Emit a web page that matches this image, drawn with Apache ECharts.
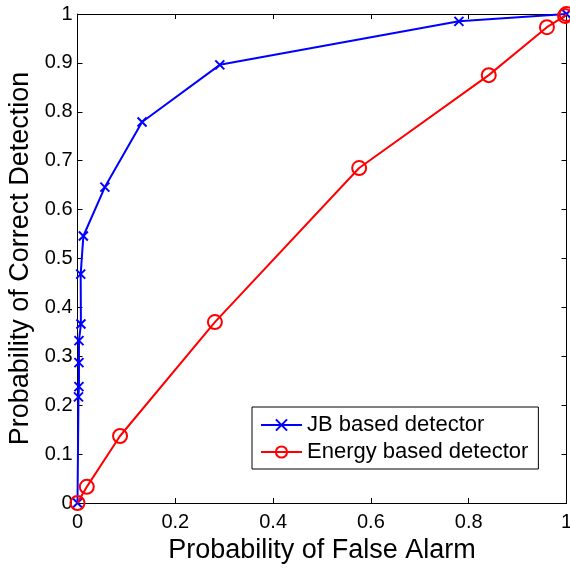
<!DOCTYPE html>
<html><head><meta charset="utf-8">
<script src="https://cdn.jsdelivr.net/npm/echarts@6/dist/echarts.min.js"></script>
<style>html,body{margin:0;padding:0;background:#fff}#c{width:570px;height:571px}</style>
</head><body><div id="c"></div>
<script>
const jbX = [0, 0.002, 0.003, 0.003, 0.003, 0.007, 0.0065, 0.012, 0.056, 0.132, 0.291, 0.78, 1.0];
const jbY = [0, 0.217, 0.238, 0.287, 0.332, 0.366, 0.468, 0.546, 0.646, 0.779, 0.896, 0.985, 1.0];
const enX = [0, 0.019, 0.087, 0.281, 0.576, 0.841, 0.96, 0.997, 1.0];
const enY = [0, 0.033, 0.137, 0.370, 0.685, 0.875, 0.973, 0.996, 1.0];
const xTicks = [0, 0.2, 0.4, 0.6, 0.8, 1];
const yTicks = [0, 0.1, 0.2, 0.3, 0.4, 0.5, 0.6, 0.7, 0.8, 0.9, 1];

const font = 'Liberation Sans, Arial, Helvetica, sans-serif';
const chart = echarts.init(document.getElementById('c'));
const pair = (xs, ys) => xs.map((x, i) => [x, ys[i]]);
const tickFmt = v => String(Math.round(v * 10) / 10);

const baseAxis = {
  min: 0, max: 1, type: 'value',
  axisLine: {show: true, onZero: false, lineStyle: {color: '#000', width: 1}},
  axisTick: {show: true, inside: true, length: 5, lineStyle: {color: '#000'}},
  splitLine: {show: false},
};

chart.setOption({
  animation: false,
  backgroundColor: '#fff',
  grid: {left: 77.5, right: 3.5, top: 14, bottom: 68, show: false, outerBoundsMode: 'none', containLabel: false},
  legend: {
    left: 252, top: 407, orient: 'vertical',
    itemWidth: 41, itemHeight: 14, itemGap: 5,
    padding: [7, 10, 6, 8],
    borderColor: '#000', borderWidth: 1, backgroundColor: '#fff',
    textStyle: {fontFamily: font, fontSize: 22, lineHeight: 22, color: '#000'},
    data: ['JB based detector', 'Energy based detector']
  },
  xAxis: [
    Object.assign({}, baseAxis, {
      position: 'bottom', interval: 0.2,
      axisLabel: {fontFamily: font, fontSize: 20, color: '#000', margin: 9, formatter: tickFmt},
      name: 'Probability of False Alarm', nameLocation: 'middle', nameGap: 48,
      nameTextStyle: {fontFamily: font, fontSize: 27, color: '#000', verticalAlign: 'middle'}
    }),
    Object.assign({}, baseAxis, {position: 'top', interval: 0.2, axisLabel: {show: false}})
  ],
  yAxis: [
    Object.assign({}, baseAxis, {
      position: 'left', interval: 0.1,
      axisLabel: {fontFamily: font, fontSize: 20, color: '#000', margin: 5, formatter: tickFmt},
      name: 'Probability of Correct Detection', nameLocation: 'middle', nameGap: 57,
      nameTextStyle: {fontFamily: font, fontSize: 27, color: '#000', verticalAlign: 'middle'}
    }),
    Object.assign({}, baseAxis, {position: 'right', interval: 0.1, axisLabel: {show: false}})
  ],
  series: [
    {
      name: 'JB based detector', type: 'line', data: pair(jbX, jbY),
      symbol: 'path://M0,0L10,10M10,0L0,10', symbolSize: 9, showAllSymbol: true,
      lineStyle: {color: '#0000ff', width: 2},
      itemStyle: {color: '#0000ff', borderColor: '#0000ff', borderWidth: 2},
      z: 3
    },
    {
      name: 'Energy based detector', type: 'line', data: pair(enX, enY),
      symbol: 'circle', symbolSize: 14, showAllSymbol: true,
      lineStyle: {color: '#ff0000', width: 2},
      itemStyle: {color: 'rgba(255,255,255,0)', borderColor: '#ff0000', borderWidth: 2},
      z: 4
    }
  ]
});
</script></body></html>
